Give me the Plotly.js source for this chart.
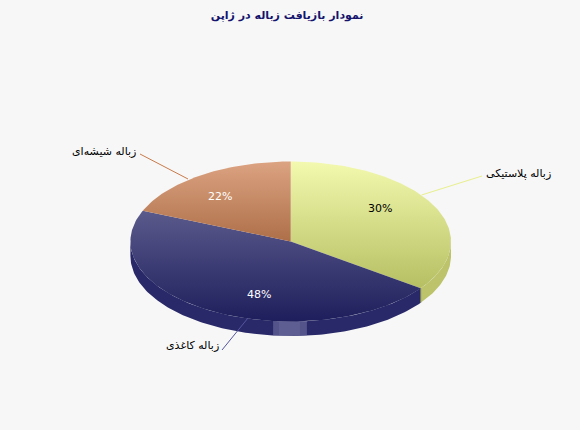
<!DOCTYPE html>
<html><head><meta charset="utf-8">
<script src="https://cdn.plot.ly/plotly-3.0.1.min.js"></script>
<style>html,body{margin:0;padding:0;background:#f7f7f7}</style></head>
<body><div id="c" style="width:580px;height:430px"></div>
<script>
const titleText = "نمودار بازیافت زباله در ژاپن";
const categories = ["زباله پلاستیکی", "زباله کاغذی", "زباله شیشه‌ای"];
const percentLabels = [30, 48, 22];
const drawnShares = [34.95, 46.35, 18.7];
const topColors = [["#f3f9ae","#b6bf62"],["#5a5a8c","#1e1e5c"],["#dca382","#ad6f48"]];
const sideColors = ["#bcc36a","#29296a"];
const leaderColors = ["#e8f08c","#55559f","#c87a4a"];
const labelAnchors = [[553,173],[221,345],[138,151]];
const pctAnchors = [[380,208,"#000"],[259,294,"#fff"],[220,196,"#fff"]];
const leaders = [[[421.5,195],[482,176]],[[248,318],[222,350]],[[188,179],[140,154]]];

const cx=290.7, cy=241.5, rx=160.3, ry=80, depth=14.5;
const pt=(deg,dy=0)=>{const r=deg*Math.PI/180;return [cx+rx*Math.sin(r), cy-ry*Math.cos(r)+dy];};
function arc(a,b,dy=0){const o=[];const n=Math.max(2,Math.ceil(Math.abs(b-a)));for(let i=0;i<=n;i++)o.push(pt(a+(b-a)*i/n,dy));return o;}
function poly(points,extra){return Object.assign({type:"scatter",mode:"lines",x:points.map(p=>p[0]),y:points.map(p=>p[1]),fill:"toself",line:{width:0},hoverinfo:"skip",showlegend:false},extra);}
const bounds=[0];drawnShares.forEach(s=>bounds.push(bounds[bounds.length-1]+s*3.6));
const traces=[];
// rim
const rim=[[bounds[0]+90,bounds[1]],[bounds[1],270]];
rim.forEach((r,i)=>{traces.push(poly(arc(r[0],r[1]).concat(arc(r[1],r[0],depth)),{fillcolor:sideColors[i]}));});
// lighter patch on the rim
traces.push(poly(arc(174.2,186.3).concat(arc(186.3,174.2,depth)),{fillcolor:"rgba(120,120,165,0.55)"}));
traces.push(poly(arc(176.7,184.2).concat(arc(184.2,176.7,depth)),{fillcolor:"rgba(120,120,165,0.3)"}));
// cut edge
const e=pt(bounds[1]);
traces.push({type:"scatter",mode:"lines",x:[e[0],e[0]],y:[e[1],e[1]+depth],line:{color:"#7d7f62",width:1},hoverinfo:"skip",showlegend:false});
// top faces
categories.forEach((c,i)=>{
  const pts=[[cx,cy]].concat(arc(bounds[i],bounds[i+1]));pts.push([cx,cy]);
  const ys=pts.map(p=>p[1]);
  traces.push(poly(pts,{fillgradient:{type:"vertical",start:Math.min(...ys),stop:Math.max(...ys),colorscale:[[0,topColors[i][0]],[1,topColors[i][1]]]},fillcolor:topColors[i][1]}));
});
// leaders
leaders.forEach((l,i)=>traces.push({type:"scatter",mode:"lines",x:l.map(p=>p[0]),y:l.map(p=>p[1]),line:{color:leaderColors[i],width:1},hoverinfo:"skip",showlegend:false}));
const font={family:"DejaVu Sans, Tahoma, sans-serif",size:11,color:"#000"};
const ann=[];
categories.forEach((c,i)=>ann.push({x:labelAnchors[i][0],y:labelAnchors[i][1],text:c,xanchor:"right",yanchor:"middle",showarrow:false,font}));
percentLabels.forEach((v,i)=>ann.push({x:pctAnchors[i][0],y:pctAnchors[i][1],text:v+"%",xanchor:"center",yanchor:"middle",showarrow:false,font:{family:font.family,size:11,color:pctAnchors[i][2]}}));
Plotly.newPlot("c",traces,{
  width:580,height:430,margin:{l:0,r:0,t:0,b:0},paper_bgcolor:"#f7f7f7",plot_bgcolor:"#f7f7f7",showlegend:false,
  title:{text:"<b>"+titleText+"</b>",x:0.495,xanchor:"center",y:0.964,yanchor:"middle",font:{family:font.family,size:11,color:"#14146e"}},
  xaxis:{range:[0,580],visible:false,fixedrange:true},
  yaxis:{range:[430,0],visible:false,fixedrange:true},
  annotations:ann
},{displayModeBar:false,staticPlot:true});
</script></body></html>
